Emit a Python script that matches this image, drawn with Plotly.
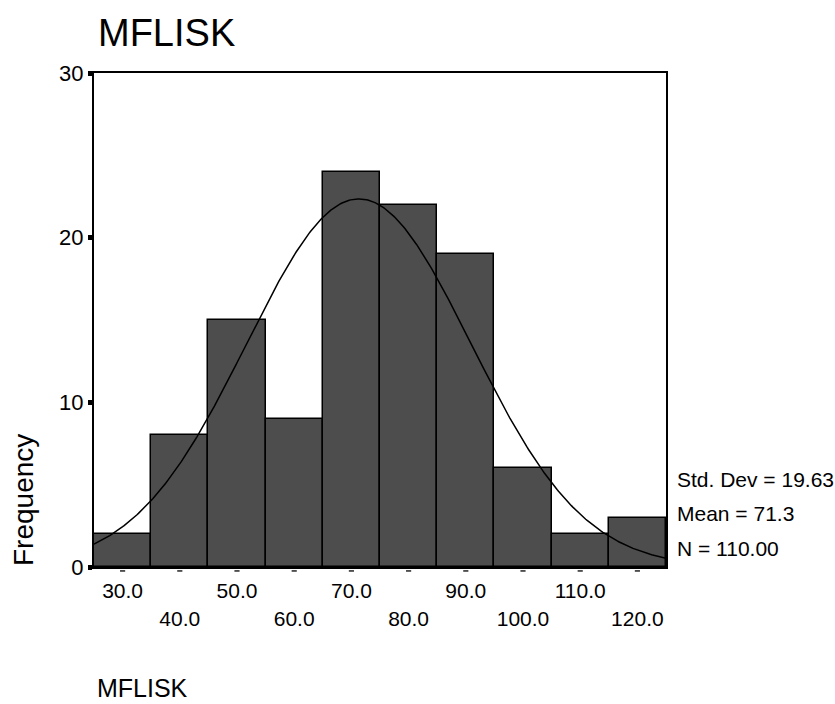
import numpy as np
import plotly.graph_objects as go

# Data
bin_centers = [30, 40, 50, 60, 70, 80, 90, 100, 110, 120]
frequencies = [2, 8, 15, 9, 24, 22, 19, 6, 2, 3]
bin_width = 10
tick_odd = [30, 50, 70, 90, 110]
tick_even = [40, 60, 80, 100, 120]
y_ticks = [0, 10, 20, 30]
std_dev = 19.63
mean = 71.3
n_total = 110.00
x_range = [25, 125]

# Fitted normal curve from the reported statistics
xc = np.linspace(x_range[0], x_range[1], 400)
yc = n_total * bin_width * np.exp(-0.5 * ((xc - mean) / std_dev) ** 2) / (std_dev * np.sqrt(2 * np.pi))

FONT = "Liberation Sans, Arial, sans-serif"

fig = go.Figure()
fig.add_trace(go.Bar(
    x=bin_centers, y=frequencies, width=bin_width,
    marker=dict(color="#4d4d4d", line=dict(color="black", width=1.5)),
    showlegend=False, hoverinfo="x+y",
))
fig.add_trace(go.Scatter(
    x=xc, y=yc, mode="lines", line=dict(color="black", width=1.5),
    showlegend=False, hoverinfo="skip",
))
# invisible helper so the second tick-label axis is drawn
fig.add_trace(go.Scatter(
    x=[bin_centers[0]], y=[0], mode="markers", marker=dict(opacity=0),
    showlegend=False, hoverinfo="skip", xaxis="x2",
))

# small dash marks under each bin center
for c in bin_centers:
    fig.add_shape(type="line", xref="x", yref="paper", x0=c - 0.45, x1=c + 0.45,
                  y0=-0.008, y1=-0.008, line=dict(color="black", width=1.3))

fig.update_layout(
    width=835, height=704,
    margin=dict(l=94, r=169, t=73, b=137),
    paper_bgcolor="white", plot_bgcolor="white",
    font=dict(family=FONT, size=21, color="black"),
    bargap=0,
    xaxis=dict(
        range=x_range, showgrid=False, zeroline=False,
        showline=True, mirror=True, linecolor="black", linewidth=2,
        tickmode="array", tickvals=tick_odd, ticktext=[f"{v:.1f}" for v in tick_odd],
        ticks="", ticklabelstandoff=4, tickfont=dict(size=21),
    ),
    xaxis2=dict(
        range=x_range, overlaying="x", side="bottom", matches="x",
        showgrid=False, zeroline=False, showline=False,
        tickmode="array", tickvals=tick_even, ticktext=[f"{v:.1f}" for v in tick_even],
        ticks="", ticklabelstandoff=37, tickfont=dict(size=21),
    ),
    yaxis=dict(
        range=[0, 30], showgrid=False, zeroline=False,
        showline=True, mirror=True, linecolor="black", linewidth=2,
        tickmode="array", tickvals=y_ticks,
        ticks="outside", ticklen=4, tickwidth=5, tickcolor="black",
        tickfont=dict(size=22),
    ),
    annotations=[
        dict(text="MFLISK", xref="paper", yref="paper", x=(96 - 94) / 572, y=1 + (73 - 33) / 494,
             xanchor="left", yanchor="middle", showarrow=False, font=dict(size=38)),
        dict(text="Frequency", xref="paper", yref="paper", x=(23 - 94) / 572, y=(567 - 500) / 494,
             xanchor="center", yanchor="middle", textangle=-90, showarrow=False, font=dict(size=28)),
        dict(text="MFLISK", xref="paper", yref="paper", x=(95 - 94) / 572, y=(567 - 688) / 494,
             xanchor="left", yanchor="middle", showarrow=False, font=dict(size=25)),
        dict(text=f"Std. Dev = {std_dev:.2f}", xref="paper", yref="paper", x=(675 - 94) / 572,
             y=(567 - 479) / 494, xanchor="left", yanchor="middle", showarrow=False, font=dict(size=21)),
        dict(text=f"Mean = {mean:.1f}", xref="paper", yref="paper", x=(675 - 94) / 572,
             y=(567 - 513) / 494, xanchor="left", yanchor="middle", showarrow=False, font=dict(size=21)),
        dict(text=f"N = {n_total:.2f}", xref="paper", yref="paper", x=(675 - 94) / 572,
             y=(567 - 548) / 494, xanchor="left", yanchor="middle", showarrow=False, font=dict(size=21)),
    ],
)

fig.write_html("out.html")
